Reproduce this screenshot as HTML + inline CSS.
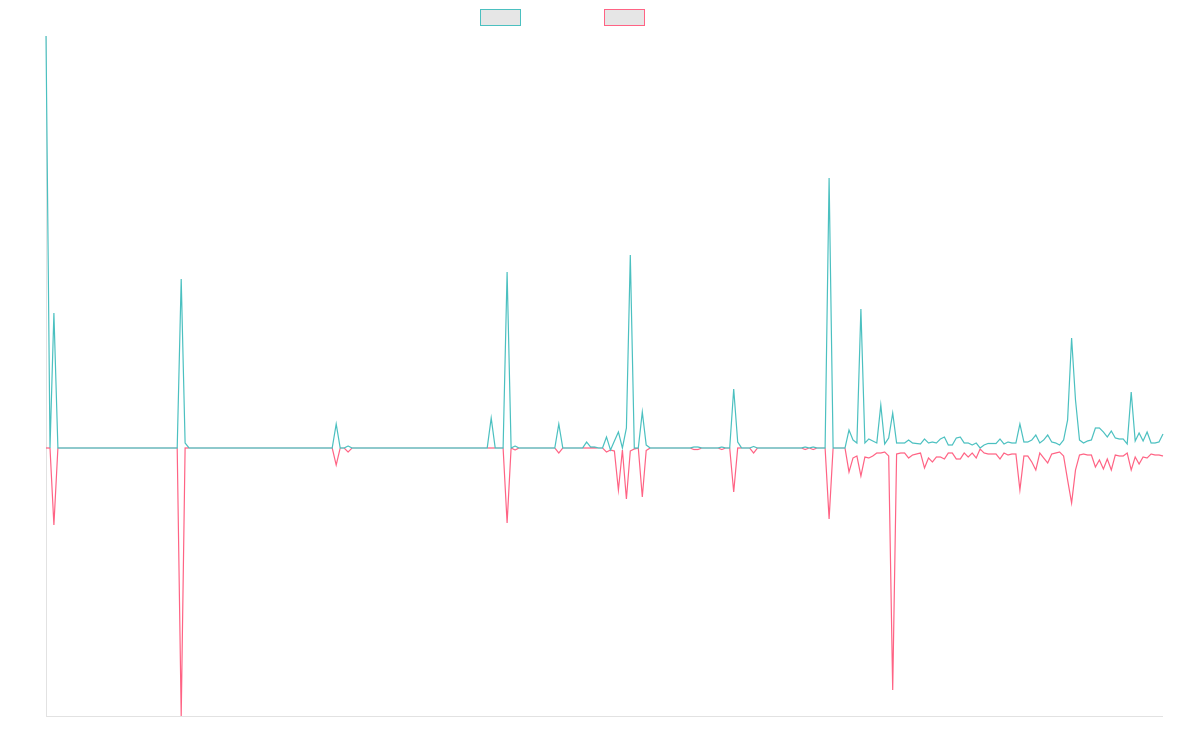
<!DOCTYPE html>
<html>
<head>
<meta charset="utf-8">
<style>
html,body{margin:0;padding:0;background:#fff;}
body{width:1200px;height:750px;overflow:hidden;font-family:"Liberation Sans",sans-serif;}
svg{display:block;}
</style>
</head>
<body>
<svg width="1200" height="750" viewBox="0 0 1200 750" xmlns="http://www.w3.org/2000/svg">
  <!-- legend -->
  <rect x="480.5" y="9.5" width="40" height="16" fill="#e6e6e6" stroke="rgb(75,192,192)" stroke-width="1"/>
  <rect x="604.5" y="9.5" width="40" height="16" fill="#e6e6e6" stroke="rgb(255,99,132)" stroke-width="1"/>

  <!-- axes -->
  <line x1="46.5" y1="36" x2="46.5" y2="716" stroke="#e2e2e2" stroke-width="1"/>
  <line x1="46" y1="716.5" x2="1163" y2="716.5" stroke="#e2e2e2" stroke-width="1"/>

  <!-- pink series -->
  <polyline fill="none" stroke="rgb(255,99,132)" stroke-width="1.2" stroke-miterlimit="10" points="
46,448 50.0,448 53.9,525 57.9,448 177.2,448 181.2,716 185.1,448 332.2,448 336.2,465 340.2,448 344.1,448 348.1,452 352.1,448
503.1,448 507.1,523 511.1,448 515.1,450 519.0,448 554.8,448 558.8,453 562.8,448 602.5,448 606.5,452 610.5,450 614.4,451
618.4,490 622.4,450 626.4,499 630.3,451 634.3,449 638.3,448 642.3,497 646.2,450.5 650.2,448 690.0,448 693.9,449.5 697.9,449.5
701.9,448 717.8,448 721.8,449.5 725.7,448 729.7,448 733.7,492 737.7,448 749.6,448 753.6,453 757.5,448 801.3,448 805.2,449.5
809.2,448 813.2,449.5 817.2,448 825.1,448 829.1,519 833.1,448 845.0,448 849.0,472 853.0,458 856.9,456 860.9,476 864.9,457
868.8,458 872.8,456 876.8,453 880.8,453 884.7,452 888.7,456 892.7,690 896.6,454 900.6,453 904.6,453 908.6,458 912.5,455
916.5,454 920.5,453 924.5,468 928.5,458 932.4,462 936.4,457 940.4,457 944.4,459 948.3,453 952.3,453 956.3,459 960.3,459
964.2,453 968.2,457 972.2,453 976.2,458 980.1,449 984.1,453 988.1,454 992.1,454 996.0,454 1000.0,459 1004.0,453 1008.0,455
1011.9,454 1015.9,454 1019.9,490 1023.9,456 1027.8,456 1031.8,462 1035.8,470 1039.8,453 1043.7,458 1047.7,463 1051.7,454
1055.7,453 1059.6,452 1063.6,456 1067.6,480 1071.6,503 1075.5,470 1079.5,455 1083.5,454 1087.5,455 1091.4,455 1095.4,467
1099.4,460 1103.4,469 1107.3,459 1111.3,470 1115.3,455 1119.3,456 1123.2,456 1127.2,453 1131.2,470 1135.2,457 1139.1,464
1143.1,457 1147.1,458 1151.1,454 1155.0,455 1159.0,455 1163.0,456"/>

  <!-- teal series -->
  <polyline fill="none" stroke="rgb(75,192,192)" stroke-width="1.2" stroke-miterlimit="10" points="
46,36 50.0,448 53.9,313 57.9,448 177.2,448 181.2,279 185.1,443 189.1,448 332.2,448 336.2,424 340.2,448 344.1,448 348.1,446
352.1,448 487.2,448 491.2,418 495.2,448 503.1,448 507.1,272 511.1,448 515.1,446 519.0,448 554.8,448 558.8,424 562.8,448
582.6,448 586.6,442 590.6,447 594.6,447 598.5,448 602.5,448 606.5,437 610.5,450 614.4,441 618.4,432 622.4,448 626.4,428
630.3,255 634.3,448 638.3,448 642.3,412 646.2,445 650.2,448 690.0,448 693.9,447 697.9,447 701.9,448 717.8,448 721.8,447
725.7,448 729.7,448 733.7,389 737.7,442 741.6,448 749.6,448 753.6,446.5 757.5,448 801.3,448 805.2,447 809.2,448 813.2,447
817.2,448 825.1,448 829.1,178 833.1,448 845.0,448 849.0,430 853.0,440 856.9,443 860.9,309 864.9,443 868.8,439 872.8,441
876.8,443 880.8,405 884.7,444 888.7,438 892.7,413 896.6,443 900.6,443 904.6,443 908.6,440 912.5,443 916.5,443.5 920.5,444
924.5,439 928.5,443 932.4,442 936.4,443 940.4,439 944.4,437 948.3,445 952.3,445 956.3,438 960.3,437 964.2,443 968.2,443
972.2,445 976.2,443 980.1,448 984.1,445 988.1,443.5 992.1,443.5 996.0,443.5 1000.0,439 1004.0,444 1008.0,442 1011.9,443
1015.9,443 1019.9,424 1023.9,442 1027.8,442 1031.8,440 1035.8,435 1039.8,443 1043.7,440 1047.7,435 1051.7,442 1055.7,443
1059.6,445 1063.6,440 1067.6,420 1071.6,338 1075.5,400 1079.5,440 1083.5,443 1087.5,441 1091.4,440 1095.4,428 1099.4,428
1103.4,432 1107.3,437 1111.3,431 1115.3,438 1119.3,439 1123.2,439 1127.2,444 1131.2,392 1135.2,441 1139.1,433 1143.1,441
1147.1,432 1151.1,443 1155.0,443 1159.0,442 1163.0,434"/>
</svg>
</body>
</html>
